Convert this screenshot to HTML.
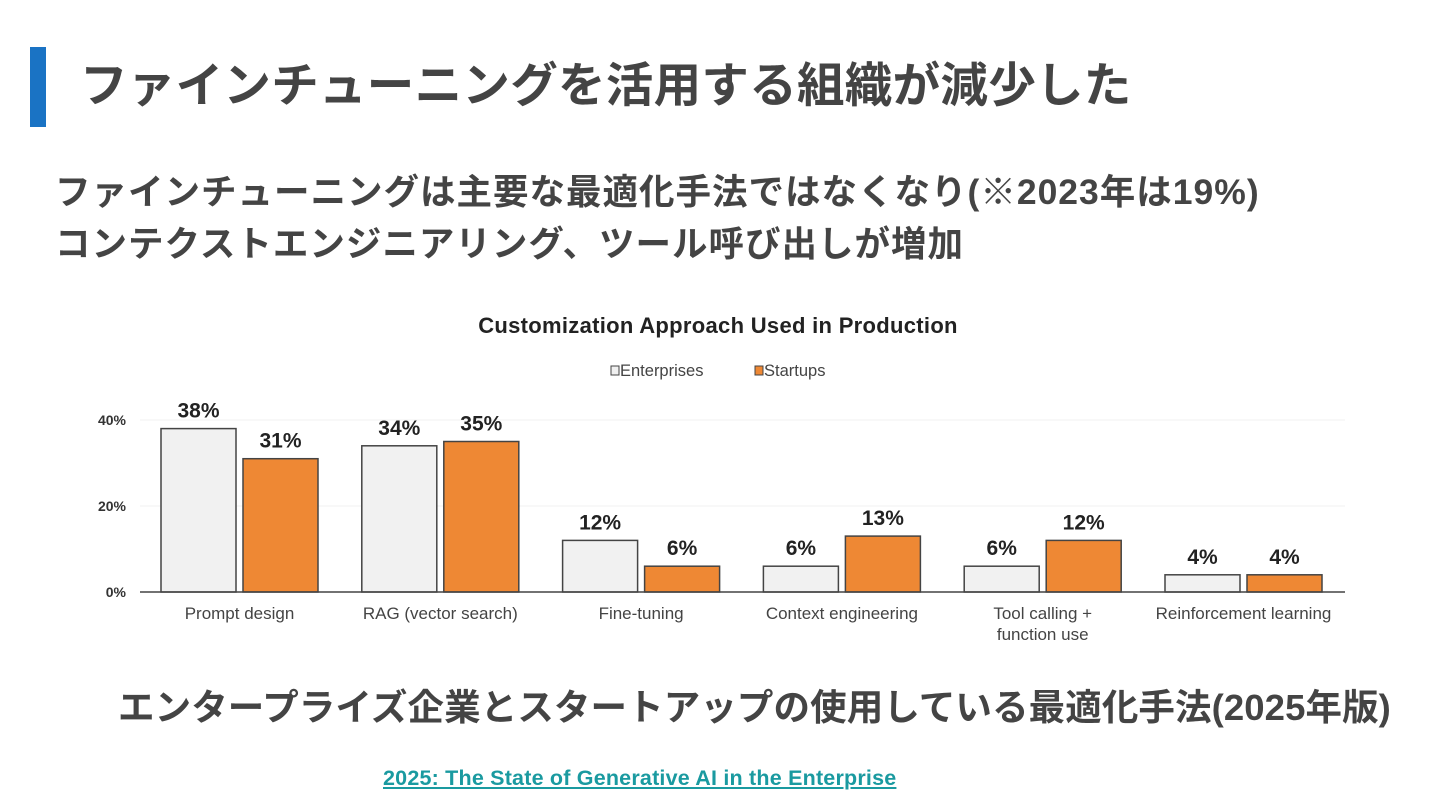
<!DOCTYPE html>
<html><head><meta charset="utf-8"><style>
body{margin:0;width:1440px;height:810px;background:#fff;position:relative;overflow:hidden;font-family:"Liberation Sans","Noto Sans CJK JP",sans-serif;}
.abs{position:absolute;white-space:nowrap;}
</style></head><body>
<div class="abs" style="left:30px;top:47px;width:16px;height:80px;background:#1a73c4"></div>
<div class="abs" style="left:80px;top:59px;font-size:47.5px;font-weight:bold;color:#444;line-height:56px;letter-spacing:0.3px">ファインチューニングを活用する組織が減少した</div>
<div class="abs" style="left:55px;top:166px;font-size:35.5px;font-weight:bold;color:#444;line-height:52px;letter-spacing:1px">ファインチューニングは主要な最適化手法ではなくなり(※2023年は19%)<br>コンテクストエンジニアリング、ツール呼び出しが増加</div>
<svg class="abs" style="left:0;top:0" width="1440" height="810" id="chart"></svg>
<div class="abs" style="left:118px;top:686px;font-size:36.5px;font-weight:bold;color:#444;line-height:44px;letter-spacing:0.1px">エンタープライズ企業とスタートアップの使用している最適化手法(2025年版)</div>
<a class="abs" style="left:383px;top:766px;font-size:21.5px;font-weight:bold;color:#1a9aa0;text-decoration:underline;line-height:24px;letter-spacing:0.2px">2025: The State of Generative AI in the Enterprise</a>
<script>
const categories=["Prompt design","RAG (vector search)","Fine-tuning","Context engineering","Tool calling +|function use","Reinforcement learning"];
const enterprises=[38,34,12,6,6,4];
const startups=[31,35,6,13,12,4];
const ticks=[0,20,40];
const NS="http://www.w3.org/2000/svg";
const svg=document.getElementById('chart');
const y0=592,pxPer=4.3,x0=140,x1=1345,groupW=200.8,firstCenter=239.5,barW=75,gap=7;
const y=v=>y0-v*pxPer;
const xc=i=>firstCenter+i*groupW;
function mk(t,a){const e=document.createElementNS(NS,t);for(const k in a)e.setAttribute(k,a[k]);svg.appendChild(e);return e;}
const ct=mk('text',{x:718,y:333,'text-anchor':'middle','font-size':22,'font-weight':'bold',fill:'#222','letter-spacing':0.3});ct.textContent='Customization Approach Used in Production';


const l1=mk('rect',{x:611,y:366,width:8,height:9,fill:'#f0f0f0',stroke:'#444','stroke-width':1});


const lt1=mk('text',{x:620,y:376,'font-size':16.5,fill:'#444'});lt1.textContent='Enterprises';


const l2=mk('rect',{x:755,y:366,width:8,height:9,fill:'#ee8834',stroke:'#444','stroke-width':1});


const lt2=mk('text',{x:764,y:376,'font-size':16.5,fill:'#444'});lt2.textContent='Startups';


ticks.forEach(t=>{
 if(t>0){const g=mk('line',{x1:x0,x2:x1,y1:y(t),y2:y(t),stroke:'#f0f0f0','stroke-width':1});
 
 }
 const tl=mk('text',{x:126,y:y(t)+5,'text-anchor':'end','font-size':14,'font-weight':'bold',fill:'#333'});tl.textContent=t+'%';
 
 
});
categories.forEach((c,i)=>{
 [[enterprises[i],'#f1f1f1',xc(i)-gap/2-barW,'enterprises'],[startups[i],'#ee8834',xc(i)+gap/2,'startups']].forEach(([v,col,bx,s])=>{
  const r=mk('rect',{x:bx,y:y(v),width:barW,height:v*pxPer,fill:col,stroke:'#444','stroke-width':1.5});
  
  
  const vl=mk('text',{x:bx+barW/2,y:y(v)-11,'text-anchor':'middle','font-size':21,'font-weight':'bold',fill:'#222'});vl.textContent=v+'%';
  
  
 });
 c.split('|').forEach((ln,j)=>{
  const t=mk('text',{x:xc(i),y:619+j*21,'text-anchor':'middle','font-size':17,fill:'#444'});t.textContent=ln;
  
  
 });
});
const ax=mk('line',{x1:x0,x2:x1,y1:y0,y2:y0,stroke:'#444','stroke-width':1.5});


</script>
</body></html>
